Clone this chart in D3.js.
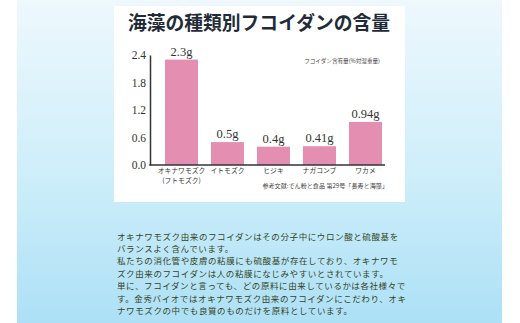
<!DOCTYPE html>
<html><head><meta charset="utf-8">
<script src="https://cdn.jsdelivr.net/npm/d3@7"></script>
<style>
html,body{margin:0;padding:0;background:#fff;}
svg{display:block;}
</style></head>
<body>
<script>
const title = "海藻の種類別フコイダンの含量";
const categories = ["オキナワモズク", "イトモズク", "ヒジキ", "ナガコンブ", "ワカメ"];
const subLabels = ["(フトモズク)", "", "", "", ""];
const values = [2.3, 0.5, 0.4, 0.41, 0.94];
const valueLabels = ["2.3g", "0.5g", "0.4g", "0.41g", "0.94g"];
const yTicks = [0.0, 0.6, 1.2, 1.8, 2.4];
const noteText = "フコイダン含有量(%対湿重量)";
const sourceText = "参考文献:でん粉と食品 第29号「長寿と海藻」";
const paragraph = [
  "オキナワモズク由来のフコイダンはその分子中にウロン酸と硫酸基を",
  "バランスよく含んでいます。",
  "私たちの消化管や皮膚の粘膜にも硫酸基が存在しており、オキナワモ",
  "ズク由来のフコイダンは人の粘膜になじみやすいとされています。",
  "単に、フコイダンと言っても、どの原料に由来しているかは各社様々で",
  "す。金秀バイオではオキナワモズク由来のフコイダンにこだわり、オキ",
  "ナワモズクの中でも良質のものだけを原料としています。"
];

const W = 520, H = 323;
const svg = d3.select("body").append("svg").attr("width", W).attr("height", H);
const defs = svg.append("defs");
const g1 = defs.append("linearGradient").attr("id","bg").attr("x1",0).attr("y1",0).attr("x2",0).attr("y2",1);
g1.append("stop").attr("offset","0%").attr("stop-color","#eef8fd");
g1.append("stop").attr("offset","55%").attr("stop-color","#cdeefa");
g1.append("stop").attr("offset","100%").attr("stop-color","#ade0f6");

svg.append("rect").attr("x",17).attr("y",0).attr("width",485).attr("height",H).attr("fill","url(#bg)");
svg.append("rect").attr("x",114).attr("y",6).attr("width",291).attr("height",196).attr("fill","#ffffff");

const serifNum = "'Liberation Serif','DejaVu Serif',serif";
const jp = "'Noto Sans CJK JP','Noto Sans',sans-serif";

svg.append("text").attr("x",259).attr("y",30).attr("text-anchor","middle")
  .attr("font-family",jp).attr("font-weight",700).attr("font-size",18.8)
  .attr("fill","#1f2c38").text(title);

const x = d3.scaleBand().domain(categories).range([158.5, 388.5]).paddingInner(0.283).paddingOuter(0.1415);
const y = d3.scaleLinear().domain([0, 2.4]).range([165, 55]);

svg.selectAll("rect.bar").data(values).join("rect").attr("class","bar")
  .attr("x",(d,i)=>x(categories[i])).attr("width",x.bandwidth())
  .attr("y",d=>y(d)).attr("height",d=>y(0)-y(d)).attr("fill","#e48fb2");

svg.selectAll("text.val").data(values).join("text").attr("class","val")
  .attr("x",(d,i)=>x(categories[i])+x.bandwidth()/2).attr("y",d=>y(d)-4)
  .attr("text-anchor","middle").attr("font-family",serifNum).attr("font-size",12.5)
  .attr("fill","#333").text((d,i)=>valueLabels[i]);

const yAxis = svg.append("g").attr("transform","translate(150,0)")
  .call(d3.axisLeft(y).tickValues(yTicks).tickSize(0).tickPadding(4).tickFormat(d3.format(".1f")));
yAxis.select(".domain").attr("stroke","#333").attr("stroke-width",1.5);
yAxis.selectAll("text").attr("font-family",serifNum).attr("font-size",11.5).attr("fill","#333");

svg.append("line").attr("x1",149.25).attr("x2",385).attr("y1",y(0)).attr("y2",y(0))
  .attr("stroke","#333").attr("stroke-width",1.5);

svg.selectAll("text.cat").data(categories).join("text").attr("class","cat")
  .attr("x",d=>x(d)+x.bandwidth()/2).attr("y",172.5)
  .attr("text-anchor","middle").attr("font-family",jp).attr("font-size",6.8)
  .attr("fill","#333").text(d=>d);
svg.selectAll("text.sub").data(subLabels).join("text").attr("class","sub")
  .attr("x",(d,i)=>x(categories[i])+x.bandwidth()/2).attr("y",182.5)
  .attr("text-anchor","middle").attr("font-family",jp).attr("font-size",6.8)
  .attr("fill","#333").text(d=>d);

svg.append("text").attr("x",380).attr("y",63).attr("text-anchor","end")
  .attr("font-family",jp).attr("font-size",5.6).attr("fill","#444").text(noteText);
svg.append("text").attr("x",388).attr("y",188).attr("text-anchor","end")
  .attr("font-family",jp).attr("font-size",6.1).attr("fill","#444").text(sourceText);

svg.selectAll("text.para").data(paragraph).join("text").attr("class","para")
  .attr("x",117).attr("y",(d,i)=>239.5+i*12.45)
  .attr("font-family",jp).attr("font-size",8.5).attr("letter-spacing",0.6)
  .attr("fill","#34451c").text(d=>d);
</script>
</body></html>
